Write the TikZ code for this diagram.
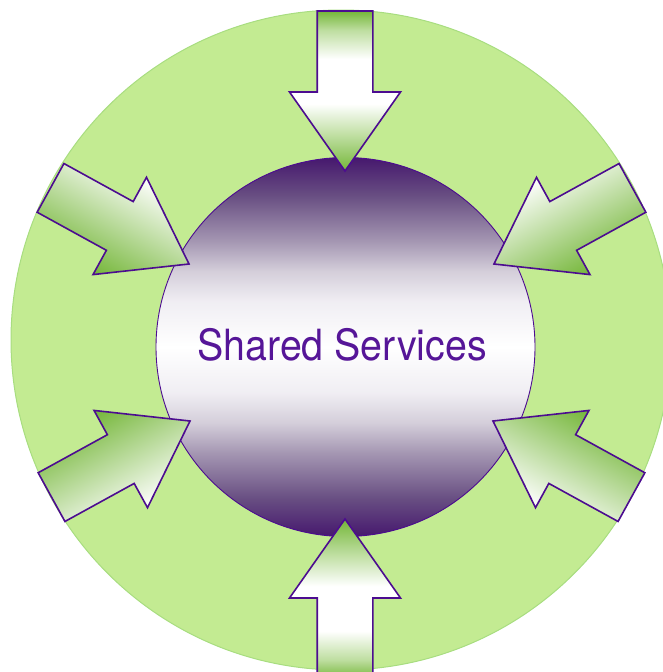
\documentclass[tikz,border=0pt]{standalone}
\usepackage{fontspec}
\newfontfamily\labelfont{TeX Gyre Heros}
\usetikzlibrary{shadings}

\definecolor{ringgreen}{RGB}{195,235,146}
\definecolor{ringedge}{RGB}{168,221,128}
\definecolor{arrowgreen}{RGB}{116,182,56}
\definecolor{arrowmid}{RGB}{190,222,160}
\definecolor{edgepurple}{RGB}{76,12,144}
\definecolor{hubpurple}{RGB}{70,24,110}
\definecolor{hubdusk}{RGB}{104,78,130}
\definecolor{hubgrey}{RGB}{164,150,178}
\definecolor{hubsilver}{RGB}{212,206,218}
\definecolor{hubpale}{RGB}{240,238,243}
\definecolor{labelpurple}{RGB}{86,22,152}

% dark purple top and bottom, fading through grey to a white middle band
\pgfdeclareverticalshading{hubshade}{100bp}{%
  color(0bp)=(hubpurple); color(25bp)=(hubpurple);
  color(30bp)=(hubdusk); color(36bp)=(hubgrey); color(40bp)=(hubsilver);
  color(44bp)=(hubpale); color(50bp)=(white); color(56bp)=(hubpale);
  color(60bp)=(hubsilver); color(64bp)=(hubgrey); color(70bp)=(hubdusk);
  color(75bp)=(hubpurple); color(100bp)=(hubpurple)}

% along an arrow: green at the tail, white band, green at the tip
\pgfdeclarehorizontalshading{axisshade}{100bp}{%
  color(0bp)=(arrowgreen); color(25bp)=(arrowgreen);
  color(31bp)=(arrowmid); color(40bp)=(white); color(54bp)=(white);
  color(64bp)=(arrowmid); color(75bp)=(arrowgreen); color(100bp)=(arrowgreen)}

% block arrow pointing along +x, tip at the origin; #1 = total length
\newcommand\blockarrowpath[1]{%
  (0,0) -- (-79,55.5) -- (-79,27.8) -- (-#1,27.8) -- (-#1,-27.8)
  -- (-79,-27.8) -- (-79,-55.5) -- cycle}

\tikzset{
  ring/.style={circle, fill=ringgreen, draw=ringedge, line width=1pt,
    minimum size=660pt, inner sep=0pt},
  hub/.style={circle, shade, shading=hubshade, draw=edgepurple,
    line width=0.9pt, minimum size=379pt, inner sep=0pt},
  blockarrow/.style={draw=edgepurple, line width=1.6pt, line join=miter},
  alongshade/.style={shade, shading=axisshade},
}

\begin{document}
\begin{tikzpicture}[x=1pt, y=1pt]
  \useasboundingbox (0,0) rectangle (662,-672);

  % outer green disc and the central hub
  \node[ring] (ring) at (341,-340) {};
  \node[hub] (hub) at (345.5,-347) {};
  \node[anchor=base, text=labelpurple,
        font=\fontsize{43}{48}\selectfont\labelfont] (label)
        at (342,-360.7) {\scalebox{0.915}[1]{Shared Services}};

  % vertical arrows: green at both ends, white in the middle
  \begin{scope}[transform canvas={shift={(345pt,-171pt)}, rotate=-90}]
    \path[blockarrow, alongshade] \blockarrowpath{160};
  \end{scope}
  \begin{scope}[transform canvas={shift={(345pt,-519pt)}, rotate=90}]
    \path[blockarrow, alongshade] \blockarrowpath{160};
  \end{scope}

  % slanted arrows: shaded across, green on the side facing the middle
  \begin{scope}[transform canvas={shift={(189pt,-264pt)}, rotate=-28.8}]
    \shade[blockarrow, top color=white, bottom color=arrowgreen] \blockarrowpath{158};
  \end{scope}
  \begin{scope}[transform canvas={shift={(494pt,-264pt)}, rotate=208.8}]
    \shade[blockarrow, top color=arrowgreen, bottom color=white] \blockarrowpath{158};
  \end{scope}
  \begin{scope}[transform canvas={shift={(190pt,-421pt)}, rotate=28.8}]
    \shade[blockarrow, top color=arrowgreen, bottom color=white] \blockarrowpath{158};
  \end{scope}
  \begin{scope}[transform canvas={shift={(493pt,-421pt)}, rotate=151.2}]
    \shade[blockarrow, top color=white, bottom color=arrowgreen] \blockarrowpath{158};
  \end{scope}
\end{tikzpicture}
\end{document}
